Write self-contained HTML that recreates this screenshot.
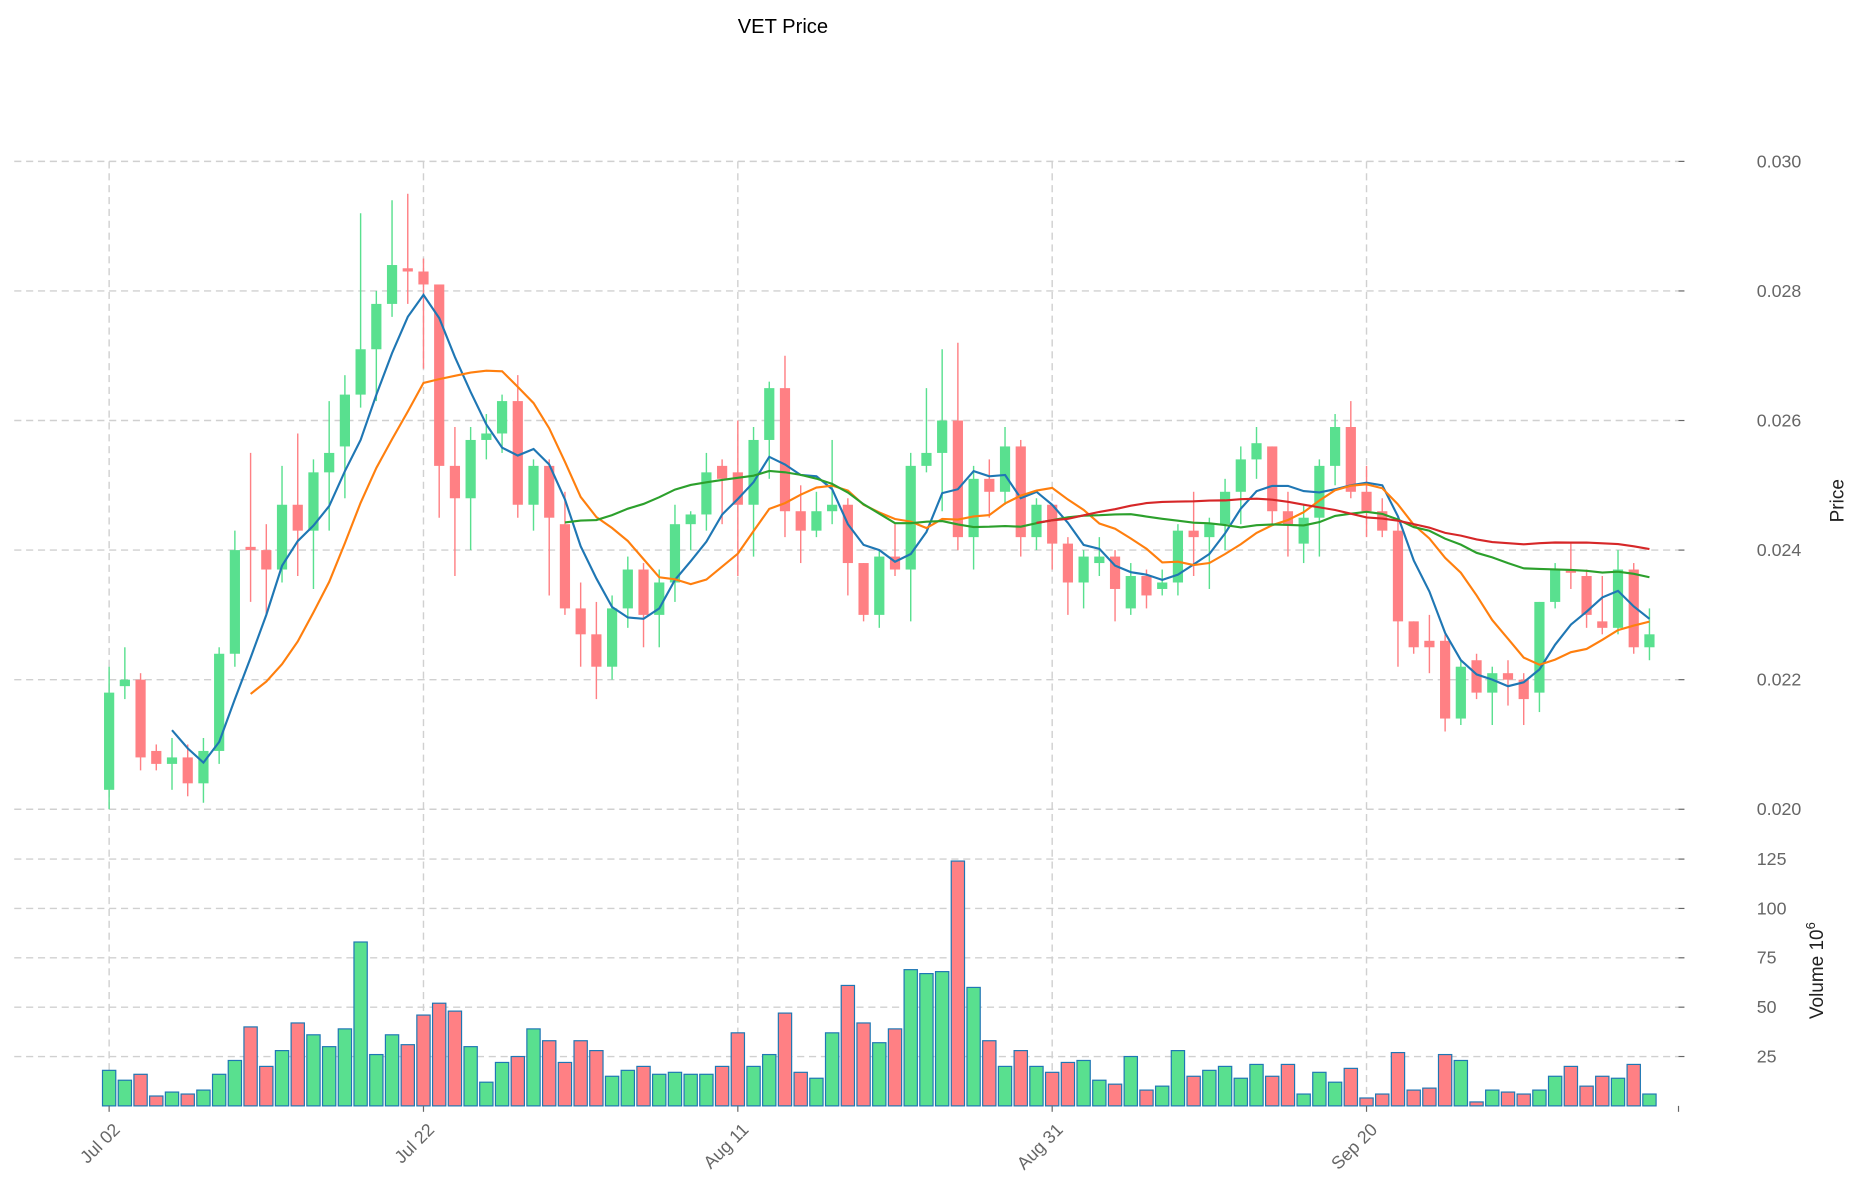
<!DOCTYPE html>
<html><head><meta charset="utf-8"><style>
html,body{margin:0;padding:0;background:#fff;}
svg{display:block;font-family:"Liberation Sans","DejaVu Sans",sans-serif;}
</style></head><body>
<svg id="chart" width="1860" height="1202" viewBox="0 0 1568 1013" preserveAspectRatio="none" xmlns="http://www.w3.org/2000/svg">
<text x="660" y="28" font-size="17" text-anchor="middle" fill="#000">VET Price</text>
<g id="grid"></g>
<g id="vol"></g>
<g id="candles"></g>
<g id="mas"></g>
<g id="axes"></g>
<text x="1554" y="422" font-size="16" fill="#222" text-anchor="middle" transform="rotate(-90 1554 422)">Price</text>
<text x="1537" y="818" font-size="16" fill="#222" text-anchor="middle" transform="rotate(-90 1537 818)">Volume  10<tspan dy="-7" font-size="11">6</tspan></text>
</svg>
<script>
const opens=[.0203,.0219,.0220,.0209,.0207,.0208,.0204,.0209,.0224,.02405,.0240,.0237,.0247,.0243,.0252,.0256,.0264,.0271,.0278,.02835,.0283,.0281,.0253,.0248,.0257,.0258,.0263,.0247,.0253,.0244,.0231,.0227,.0222,.0231,.0237,.0230,.0235,.0244,.02455,.0253,.0252,.0247,.0257,.0265,.0246,.0243,.0246,.0247,.0238,.0230,.0239,.0237,.0253,.0255,.0260,.0242,.0251,.0249,.0256,.0242,.0247,.0241,.0235,.0238,.0239,.0231,.0236,.0234,.0235,.0243,.0242,.0244,.0249,.0254,.0256,.0246,.0241,.0245,.0253,.0259,.0249,.0246,.0243,.0229,.0226,.0226,.0214,.0223,.0218,.0221,.0220,.0218,.0232,.0237,.0236,.0229,.0228,.0237,.0225];
const closes=[.0218,.0220,.0208,.0207,.0208,.0204,.0209,.0224,.0240,.0240,.0237,.0247,.0243,.0252,.0255,.0264,.0271,.0278,.0284,.0283,.0281,.0253,.0248,.0257,.0258,.0263,.0247,.0253,.0245,.0231,.0227,.0222,.0231,.0237,.0230,.0235,.0244,.02455,.0252,.0251,.0247,.0257,.0265,.0246,.0243,.0246,.0247,.0238,.0230,.0239,.0237,.0253,.0255,.0260,.0242,.0251,.0249,.0256,.0242,.0247,.0241,.0235,.0239,.0239,.0234,.0236,.0233,.0235,.0243,.0242,.0244,.0249,.0254,.02565,.0246,.0244,.0245,.0253,.0259,.0249,.0246,.0243,.0229,.0225,.0225,.0214,.0222,.0218,.0221,.0220,.0217,.0232,.0237,.02365,.0230,.0228,.0237,.0225,.0227];
const highs=[.0222,.0225,.0221,.0210,.0211,.0210,.0211,.0225,.0243,.0255,.0244,.0253,.0258,.0254,.0263,.0267,.0292,.0280,.0294,.0295,.0285,.0281,.0259,.0259,.0261,.0264,.0267,.0254,.0254,.0249,.0235,.0232,.0233,.0239,.0238,.0237,.0247,.0246,.0255,.0254,.0260,.0259,.0266,.0270,.0250,.0249,.0257,.0248,.0238,.0240,.0244,.0255,.0265,.0271,.0272,.0253,.0254,.0259,.0257,.0248,.0247,.0242,.0240,.0242,.0240,.0238,.0237,.0237,.0244,.0249,.0245,.0251,.0256,.0259,.0256,.0249,.0247,.0254,.0261,.0263,.0253,.0248,.0245,.0229,.0230,.0227,.0223,.0224,.0222,.0223,.0221,.0232,.0238,.0241,.0237,.0236,.0240,.0238,.0231];
const lows=[.0200,.0217,.0206,.0206,.0203,.0202,.0201,.0207,.0222,.0232,.0230,.0235,.0236,.0234,.0243,.0248,.0262,.0263,.0276,.0278,.0268,.0245,.0236,.0240,.0254,.0255,.0245,.0243,.0233,.0230,.0222,.0217,.0220,.0228,.0225,.0225,.0232,.0240,.0243,.0244,.0236,.0239,.0251,.0242,.0238,.0242,.0244,.0233,.0229,.0228,.0236,.0229,.0252,.0246,.0240,.0237,.0245,.0247,.0239,.0240,.0237,.0230,.0231,.0236,.0229,.0230,.0231,.0233,.0233,.0236,.0234,.0240,.0244,.0251,.0244,.0239,.0238,.0239,.0250,.0248,.0242,.0242,.0222,.0224,.0221,.0212,.0213,.0217,.0213,.0216,.0213,.0215,.0231,.0234,.0228,.0227,.0227,.0224,.0223];
const volumes=[18,13,16,5,7,6,8,16,23,40,20,28,42,36,30,39,83,26,36,31,46,52,48,30,12,22,25,39,33,22,33,28,15,18,20,16,17,16,16,20,37,20,26,47,17,14,37,61,42,32,39,69,67,68,124,60,33,20,28,20,17,22,23,13,11,25,8,10,28,15,18,20,14,21,15,21,6,17,12,19,4,6,27,8,9,26,23,2,8,7,6,8,15,20,10,15,14,21,6];
const priceTicks=[0.020,0.022,0.024,0.026,0.028,0.030];
const volTicks=[25,50,75,100,125];
const dateLabels=["Jul 02","Jul 22","Aug 11","Aug 31","Sep 20"];
const dateIdx=[0,20,40,60,80];
const maPeriods=[5,10,30,60];
const maColors=["#1f77b4","#ff7f0e","#2ca02c","#d62728"];

const NS="http://www.w3.org/2000/svg";
const X0=92,DX=13.25,PL=12,PR=1415;
const xs=i=>X0+DX*i;
const yp=p=>682-(p-0.020)/0.010*546;
const yv=v=>932-v*1.664;
function mk(tag,at,parent){const e=document.createElementNS(NS,tag);for(const k in at)e.setAttribute(k,at[k]);parent.appendChild(e);return e;}
const G=document.getElementById('grid'),V=document.getElementById('vol'),C=document.getElementById('candles'),M=document.getElementById('mas'),A=document.getElementById('axes');
const GREEN="#59e08f",RED="#ff8084";
priceTicks.forEach(t=>{
  const l=mk('line',{x1:PL,x2:PR,y1:yp(t),y2:yp(t),stroke:"#d0d0d0","stroke-dasharray":"6,4","stroke-width":1.2},G);
  
  
  const tx=mk('text',{x:1481,y:yp(t)+5,"font-size":15,fill:"#666"},A);tx.textContent=t.toFixed(3);
  
  
  mk('line',{x1:PR,x2:PR+5,y1:yp(t),y2:yp(t),stroke:"#666"},A);
});
volTicks.forEach(t=>{
  const l=mk('line',{x1:PL,x2:PR,y1:yv(t),y2:yv(t),stroke:"#d0d0d0","stroke-dasharray":"6,4","stroke-width":1.2},G);
  
  
  const tx=mk('text',{x:1481,y:yv(t)+5,"font-size":15,fill:"#666"},A);tx.textContent=t;
  
  
  mk('line',{x1:PR,x2:PR+5,y1:yv(t),y2:yv(t),stroke:"#666"},A);
});
dateIdx.forEach((d,k)=>{
  const x=xs(d);
  const l=mk('line',{x1:x,x2:x,y1:136,y2:932,stroke:"#d0d0d0","stroke-dasharray":"6,4","stroke-width":1.2},G);
  
  
  mk('line',{x1:x,x2:x,y1:932,y2:937,stroke:"#666"},A);
  const tx=mk('text',{x:x+10,y:953,"font-size":15,fill:"#666","text-anchor":"end",transform:`rotate(-45 ${x+10} 953)`},A);tx.textContent=dateLabels[k];
  
  
});
mk('line',{x1:PR,x2:PR,y1:932,y2:937,stroke:"#666"},A);
opens.forEach((o,i)=>{
  const c=closes[i],up=c>=o,col=up?GREEN:RED,x=xs(i);
  const b=mk('rect',{x:x-5.6,y:yv(volumes[i]),width:11.2,height:932-yv(volumes[i]),fill:col,stroke:"#1f77b4","stroke-width":1},V);
  
  
  const w=mk('line',{x1:x,x2:x,y1:yp(highs[i]),y2:yp(lows[i]),stroke:col,"stroke-width":1.2},C);
  
  
  const top=yp(Math.max(o,c)),bot=yp(Math.min(o,c));
  const r=mk('rect',{x:x-4.3,y:top,width:8.6,height:Math.max(bot-top,1.5),fill:col},C);
  
  
});
maPeriods.forEach((p,k)=>{
  const pts=[];
  for(let i=p-1;i<closes.length;i++){let s=0;for(let j=i-p+1;j<=i;j++)s+=closes[j];pts.push(xs(i).toFixed(1)+","+yp(s/p).toFixed(1));}
  const pl=mk('polyline',{points:pts.join(" "),fill:"none",stroke:maColors[k],"stroke-width":1.8},M);
  
  
});
</script>
</body></html>
